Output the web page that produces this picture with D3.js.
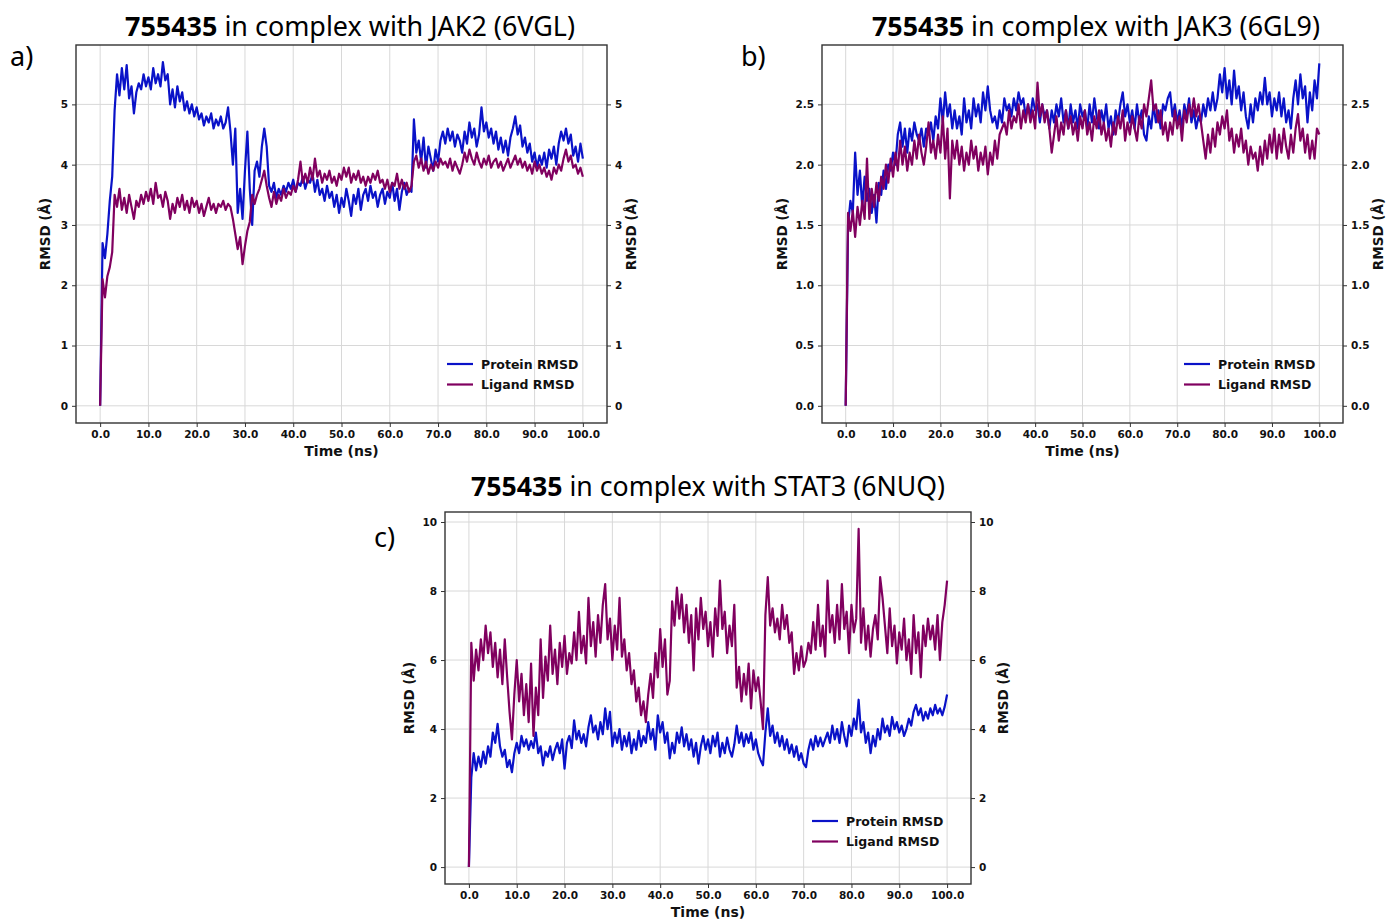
<!DOCTYPE html>
<html>
<head>
<meta charset="utf-8">
<script src="https://cdn.jsdelivr.net/npm/d3@7"></script>
<style>
  html, body { margin: 0; padding: 0; background: #ffffff; }
  svg { display: block; }
</style>
</head>
<body>
<svg id="chart" width="1386" height="924"></svg>
<script>
// ---------------- DATA ----------------
// sampling grid: 0.0 ... 100.0 ns, every 0.5 ns
const time = d3.range(0, 100.25, 0.5);

const xTickValues = [0, 10, 20, 30, 40, 50, 60, 70, 80, 90, 100];
const seriesNames = ["Protein RMSD", "Ligand RMSD"];

// a) JAK2 (6VGL)
const jak2Protein = [
  0.0,2.7,2.45,2.85,3.4,3.8,4.9,5.5,5.15,5.6,
  5.25,5.65,5.1,5.3,4.85,5.2,5.35,5.25,5.5,5.3,
  5.45,5.25,5.6,5.35,5.5,5.3,5.7,5.4,5.5,5.0,
  5.25,4.95,5.3,5.05,5.2,4.9,5.05,4.85,5.0,4.8,
  4.95,4.75,4.85,4.65,4.8,4.7,4.85,4.6,4.75,4.65,
  4.8,4.6,4.7,4.95,4.55,4.0,4.6,3.2,3.6,3.1,
  3.9,4.55,3.6,3.0,3.9,4.05,3.8,4.3,4.6,4.3,
  3.65,3.55,3.7,3.45,3.6,3.5,3.65,3.55,3.7,3.6,
  3.75,3.55,3.7,3.65,3.8,3.6,3.75,3.7,3.85,3.55,
  3.75,3.5,3.6,3.4,3.65,3.45,3.55,3.3,3.5,3.2,
  3.45,3.3,3.6,3.4,3.15,3.5,3.35,3.6,3.25,3.5,
  3.6,3.4,3.65,3.45,3.55,3.3,3.5,3.6,3.35,3.55,
  3.45,3.7,3.4,3.6,3.25,3.55,3.7,3.5,3.6,3.55,
  4.75,4.2,4.4,4.05,4.45,3.95,4.3,4.1,3.9,4.25,
  4.05,4.4,4.55,4.35,4.6,4.4,4.55,4.3,4.5,4.4,
  4.2,4.55,4.35,4.7,4.45,4.6,4.3,4.5,4.95,4.55,
  4.7,4.45,4.6,4.35,4.55,4.25,4.45,4.2,4.4,4.15,
  4.45,4.6,4.8,4.5,4.65,4.3,4.45,4.2,4.35,4.05,
  4.2,3.95,4.15,4.0,4.2,3.95,4.25,4.1,4.3,4.0,
  4.35,4.55,4.4,4.6,4.35,4.5,4.15,4.3,4.05,4.35,
  4.1
];
const jak2Ligand = [
  0.0,2.1,1.8,2.15,2.3,2.55,3.5,3.3,3.6,3.25,
  3.45,3.2,3.5,3.3,3.1,3.4,3.3,3.5,3.35,3.55,
  3.4,3.6,3.35,3.7,3.45,3.5,3.3,3.55,3.4,3.1,
  3.35,3.2,3.45,3.3,3.5,3.25,3.4,3.2,3.45,3.3,
  3.4,3.2,3.35,3.15,3.3,3.45,3.25,3.35,3.2,3.35,
  3.3,3.4,3.25,3.35,3.3,3.1,2.85,2.6,2.8,2.35,
  2.65,2.9,3.05,3.5,3.35,3.5,3.6,3.75,3.9,3.65,
  3.45,3.3,3.55,3.35,3.5,3.4,3.6,3.45,3.55,3.5,
  3.65,3.55,3.75,4.05,3.7,3.85,3.7,3.95,3.75,4.1,
  3.8,3.9,3.7,3.85,3.75,3.9,3.7,3.8,3.65,3.85,
  3.75,3.95,3.8,3.95,3.7,3.85,3.75,3.9,3.7,3.8,
  3.65,3.8,3.7,3.85,3.75,3.9,3.7,3.75,3.6,3.75,
  3.55,3.7,3.65,3.85,3.6,3.75,3.6,3.7,3.55,3.65,
  4.05,4.15,3.95,4.1,3.9,4.05,3.85,4.0,3.9,4.05,
  3.95,4.1,4.0,4.05,3.95,4.1,3.9,4.05,3.95,3.85,
  4.0,4.2,4.05,4.25,4.1,4.0,4.2,4.05,3.95,4.1,
  4.0,4.15,3.95,4.05,4.1,3.95,4.05,3.9,4.0,4.1,
  3.95,4.05,4.15,4.0,4.1,3.95,4.05,3.9,4.0,3.85,
  4.05,3.9,4.0,3.85,3.95,3.8,3.9,3.75,3.95,3.85,
  4.0,3.9,4.1,4.25,4.05,4.15,3.95,4.0,3.85,3.95,
  3.8
];
const jak2YTicks = [0, 1, 2, 3, 4, 5];

// b) JAK3 (6GL9)
const jak3Protein = [
  0.0,1.5,1.7,1.6,2.1,1.75,1.95,1.65,1.9,1.7,
  1.8,1.6,1.75,1.52,1.85,1.75,1.95,1.8,2.0,1.95,
  2.1,2.0,2.25,2.35,2.15,2.3,2.1,2.3,2.2,2.35,
  2.25,2.2,2.3,2.15,2.3,2.25,2.35,2.2,2.4,2.3,
  2.55,2.35,2.6,2.4,2.5,2.3,2.45,2.3,2.4,2.25,
  2.55,2.35,2.45,2.3,2.55,2.4,2.5,2.35,2.6,2.45,
  2.65,2.45,2.35,2.4,2.3,2.45,2.35,2.55,2.45,2.5,
  2.4,2.55,2.45,2.6,2.5,2.55,2.4,2.5,2.4,2.55,
  2.45,2.5,2.35,2.5,2.4,2.45,2.3,2.45,2.35,2.5,
  2.4,2.55,2.35,2.45,2.3,2.5,2.35,2.45,2.3,2.5,
  2.4,2.45,2.3,2.5,2.35,2.55,2.4,2.3,2.45,2.35,
  2.5,2.3,2.4,2.25,2.45,2.35,2.5,2.6,2.4,2.5,
  2.35,2.45,2.3,2.5,2.35,2.45,2.25,2.2,2.4,2.3,
  2.5,2.35,2.45,2.3,2.5,2.45,2.55,2.6,2.4,2.5,
  2.35,2.45,2.3,2.5,2.4,2.55,2.35,2.45,2.3,2.4,
  2.35,2.5,2.4,2.55,2.45,2.6,2.45,2.55,2.75,2.6,
  2.8,2.55,2.7,2.5,2.78,2.55,2.65,2.45,2.6,2.4,
  2.3,2.5,2.35,2.55,2.45,2.6,2.5,2.72,2.5,2.6,
  2.4,2.55,2.45,2.6,2.4,2.55,2.35,2.45,2.3,2.55,
  2.7,2.5,2.75,2.55,2.65,2.35,2.6,2.45,2.7,2.55,
  2.84
];
const jak3Ligand = [
  0.0,1.6,1.45,1.62,1.4,1.65,1.5,1.7,1.55,2.05,
  1.55,1.8,1.65,1.85,1.7,1.9,1.8,2.0,1.85,2.05,
  1.9,2.1,1.95,2.2,2.0,2.15,1.95,2.1,2.0,2.2,
  2.05,2.25,2.1,2.0,2.15,2.35,2.1,2.2,2.05,2.25,
  2.1,2.4,2.05,2.3,1.72,2.2,2.05,2.2,2.0,2.15,
  1.95,2.1,2.0,2.2,2.05,2.15,1.95,2.1,2.0,2.15,
  1.92,2.1,2.0,2.2,2.05,2.25,2.3,2.35,2.25,2.45,
  2.3,2.4,2.35,2.5,2.3,2.45,2.35,2.5,2.35,2.45,
  2.3,2.68,2.4,2.5,2.35,2.45,2.3,2.1,2.25,2.4,
  2.2,2.35,2.25,2.45,2.3,2.4,2.25,2.35,2.2,2.4,
  2.3,2.45,2.25,2.35,2.2,2.4,2.3,2.45,2.25,2.35,
  2.2,2.3,2.15,2.35,2.25,2.4,2.3,2.45,2.2,2.35,
  2.25,2.4,2.3,2.2,2.4,2.3,2.5,2.4,2.55,2.7,
  2.45,2.5,2.35,2.45,2.25,2.35,2.2,2.35,2.25,2.45,
  2.3,2.4,2.2,2.45,2.35,2.5,2.4,2.55,2.4,2.5,
  2.35,2.2,2.05,2.25,2.1,2.3,2.15,2.35,2.25,2.4,
  2.3,2.45,2.2,2.3,2.1,2.25,2.15,2.3,2.1,2.2,
  2.0,2.15,2.05,2.1,1.95,2.15,2.0,2.2,2.05,2.25,
  2.1,2.3,2.05,2.25,2.1,2.3,2.15,2.05,2.25,2.1,
  2.3,2.42,2.2,2.3,2.1,2.25,2.05,2.2,2.05,2.3,
  2.25
];
const jak3YTicks = [0, 0.5, 1.0, 1.5, 2.0, 2.5];

// c) STAT3 (6NUQ)
const stat3Protein = [
  0.0,2.6,3.3,2.8,3.2,2.9,3.35,3.0,3.5,3.2,
  3.9,3.6,4.15,3.5,3.2,3.4,2.9,3.1,2.75,3.3,
  3.6,3.3,3.8,3.5,3.7,3.4,3.65,3.45,3.9,3.3,
  3.5,2.95,3.35,3.2,3.5,3.1,3.4,3.6,3.3,3.7,
  2.85,3.6,3.8,3.45,4.25,3.7,3.95,3.6,3.85,3.5,
  4.05,4.4,3.9,4.1,3.7,4.2,3.85,4.6,4.0,4.5,
  3.5,3.9,3.6,4.0,3.4,3.8,3.5,3.9,3.3,3.7,
  3.4,3.95,3.5,3.8,3.6,4.2,3.7,4.0,3.4,4.4,
  3.9,4.2,3.6,3.9,3.15,3.6,3.3,3.9,3.6,4.05,
  3.5,3.85,3.4,3.7,3.2,3.6,3.0,3.5,3.8,3.4,
  3.7,3.3,3.8,3.5,3.9,3.2,3.6,3.3,3.75,3.4,
  3.2,3.55,4.1,3.6,3.9,3.5,3.85,3.6,3.9,3.4,
  3.7,3.3,3.1,2.95,3.9,4.6,3.8,4.1,3.6,3.9,
  3.5,3.8,3.4,3.7,3.3,3.55,3.2,3.5,3.1,3.3,
  3.0,2.9,3.4,3.7,3.4,3.8,3.5,3.75,3.5,3.7,
  3.9,3.6,4.1,3.7,4.0,3.6,4.2,3.8,3.5,4.1,
  3.8,4.3,4.0,4.85,3.9,4.2,3.6,3.9,3.3,3.8,
  3.5,4.0,3.7,4.3,3.9,4.1,3.8,4.35,4.0,4.2,
  3.9,4.1,3.8,4.0,4.3,4.1,4.5,4.7,4.4,4.6,
  4.25,4.5,4.3,4.6,4.4,4.7,4.45,4.6,4.4,4.65,
  5.0
];
const stat3Ligand = [
  0.0,6.5,5.4,6.3,5.7,6.6,6.0,7.0,6.2,6.8,
  5.8,6.5,5.5,6.3,5.3,6.6,5.5,4.5,3.7,5.0,
  6.0,4.8,5.6,4.4,5.3,4.2,5.9,3.8,5.2,4.4,
  6.6,4.9,6.1,5.4,7.0,5.6,6.3,5.3,6.5,5.8,
  6.7,5.6,6.2,5.9,6.8,6.0,7.4,6.2,6.7,5.9,
  7.8,6.4,7.1,6.1,7.3,6.5,7.6,8.2,6.6,7.2,
  6.0,7.0,6.3,7.8,6.1,6.6,5.7,6.2,5.3,5.7,
  4.8,5.2,4.4,4.8,4.2,5.0,5.6,4.9,6.2,5.5,
  6.9,5.8,6.6,5.0,5.4,7.7,7.0,8.1,7.2,7.9,
  6.8,7.6,6.5,7.3,5.7,7.5,6.6,7.8,6.9,7.4,
  6.4,7.1,6.1,7.5,6.7,8.3,6.9,7.4,6.2,7.0,
  6.4,7.6,5.2,5.8,4.8,5.6,5.0,5.9,4.6,5.7,
  5.1,5.5,4.8,4.0,7.3,8.4,7.0,7.5,6.8,7.2,
  6.6,7.6,6.9,7.3,6.5,6.8,5.6,6.2,5.7,6.4,
  5.8,6.0,6.5,6.2,7.1,6.3,7.6,6.4,7.0,6.1,
  8.3,6.8,7.3,6.5,7.6,6.6,8.2,6.9,7.4,6.2,
  7.6,6.8,7.2,9.8,6.5,7.5,6.3,7.0,6.1,6.9,
  7.3,6.6,8.4,7.8,7.0,6.2,7.5,6.4,7.0,5.9,
  6.8,6.3,7.2,6.0,6.6,5.6,7.3,6.2,6.8,5.5,
  7.0,6.4,7.2,6.6,7.0,6.3,7.3,6.0,7.1,7.6,
  8.3
];
const stat3YTicks = [0, 2, 4, 6, 8, 10];

// ---------------- STYLE / LAYOUT ----------------
const proteinColor = "#0a12c8";
const ligandColor = "#80005f";
const tickFont = "'DejaVu Sans', sans-serif";
const titleFont = "'Noto Sans', 'Open Sans', sans-serif";

const panels = [
  {
    letter: "a)", letterX: 10, letterY: 66,
    bold: "755435", rest: " in complex with JAK2 (6VGL)", titleX: 125, titleW: 450, titleY: 36,
    left: 76, right: 607, top: 45, bottom: 423,
    ydom: [-0.285, 5.985], yTicks: jak2YTicks, yFmt: d3.format("d"),
    protein: jak2Protein, ligand: jak2Ligand,
    ylabL: 50, ylabR: 636,
    legX: 447, legY: 364
  },
  {
    letter: "b)", letterX: 741, letterY: 66,
    bold: "755435", rest: " in complex with JAK3 (6GL9)", titleX: 872, titleW: 448, titleY: 36,
    left: 822, right: 1343, top: 45, bottom: 423,
    ydom: [-0.1425, 2.9925], yTicks: jak3YTicks, yFmt: d3.format(".1f"),
    protein: jak3Protein, ligand: jak3Ligand,
    ylabL: 787, ylabR: 1383,
    legX: 1184, legY: 364
  },
  {
    letter: "c)", letterX: 374, letterY: 547,
    bold: "755435", rest: " in complex with STAT3 (6NUQ)", titleX: 471, titleW: 474, titleY: 496,
    left: 445, right: 971, top: 512, bottom: 884,
    ydom: [-0.49, 10.29], yTicks: stat3YTicks, yFmt: d3.format("d"),
    protein: stat3Protein, ligand: stat3Ligand,
    ylabL: 414, ylabR: 1008,
    legX: 812, legY: 821
  }
];

const svg = d3.select("#chart");
svg.append("rect").attr("width", 1386).attr("height", 924).attr("fill", "#ffffff");

function drawPanel(p) {
  const g = svg.append("g");
  const x = d3.scaleLinear().domain([-5, 105]).range([p.left, p.right]);
  const y = d3.scaleLinear().domain(p.ydom).range([p.bottom, p.top]);

  // grid
  g.append("g").selectAll("line").data(xTickValues).join("line")
    .attr("x1", d => x(d)).attr("x2", d => x(d))
    .attr("y1", p.top).attr("y2", p.bottom)
    .attr("stroke", "#d8d8d8").attr("stroke-width", 1);
  g.append("g").selectAll("line").data(p.yTicks).join("line")
    .attr("y1", d => y(d)).attr("y2", d => y(d))
    .attr("x1", p.left).attr("x2", p.right)
    .attr("stroke", "#d8d8d8").attr("stroke-width", 1);

  // series
  const line = d3.line().x((d, i) => x(time[i])).y(d => y(d));
  g.append("path").datum(p.protein).attr("d", line)
    .attr("fill", "none").attr("stroke", proteinColor).attr("stroke-width", 2.2)
    .attr("stroke-linejoin", "round");
  g.append("path").datum(p.ligand).attr("d", line)
    .attr("fill", "none").attr("stroke", ligandColor).attr("stroke-width", 2.2)
    .attr("stroke-linejoin", "round");

  // axes
  const styleAxis = sel => {
    sel.select(".domain").remove();
    sel.selectAll(".tick line").attr("stroke", "#333").attr("stroke-width", 1);
    sel.selectAll(".tick text").attr("fill", "#111")
      .style("font-family", tickFont).style("font-weight", "bold").style("font-size", "10.5px");
  };
  g.append("g").attr("transform", `translate(0,${p.bottom})`)
    .call(d3.axisBottom(x).tickValues(xTickValues).tickFormat(d3.format(".1f")).tickSize(4).tickPadding(4))
    .call(styleAxis);
  g.append("g").attr("transform", `translate(${p.left},0)`)
    .call(d3.axisLeft(y).tickValues(p.yTicks).tickFormat(p.yFmt).tickSize(4).tickPadding(4))
    .call(styleAxis);
  g.append("g").attr("transform", `translate(${p.right},0)`)
    .call(d3.axisRight(y).tickValues(p.yTicks).tickFormat(p.yFmt).tickSize(4).tickPadding(4))
    .call(styleAxis);

  // frame
  g.append("rect").attr("x", p.left).attr("y", p.top)
    .attr("width", p.right - p.left).attr("height", p.bottom - p.top)
    .attr("fill", "none").attr("stroke", "#333333").attr("stroke-width", 1.4);

  // axis labels
  const cy = (p.top + p.bottom) / 2;
  g.append("text").text("Time (ns)")
    .attr("x", (x(0) + x(100)) / 2).attr("y", p.bottom + 33)
    .attr("text-anchor", "middle").attr("fill", "#111")
    .style("font-family", tickFont).style("font-weight", "bold").style("font-size", "14px");
  [p.ylabL, p.ylabR].forEach(lx => {
    g.append("text").text("RMSD (Å)")
      .attr("transform", `translate(${lx},${cy}) rotate(-90)`)
      .attr("text-anchor", "middle").attr("fill", "#111")
      .style("font-family", tickFont).style("font-weight", "bold").style("font-size", "13.5px");
  });

  // legend
  const cols = [proteinColor, ligandColor];
  seriesNames.forEach((nm, i) => {
    const ly = p.legY + i * 20.5;
    g.append("line").attr("x1", p.legX).attr("x2", p.legX + 26)
      .attr("y1", ly).attr("y2", ly)
      .attr("stroke", cols[i]).attr("stroke-width", 2.2);
    g.append("text").text(nm).attr("x", p.legX + 34).attr("y", ly + 4.5)
      .attr("fill", "#111")
      .style("font-family", tickFont).style("font-weight", "bold").style("font-size", "12.5px");
  });

  // title
  const t = svg.append("text").attr("x", p.titleX).attr("y", p.titleY)
    .attr("fill", "#000").style("font-family", titleFont).style("font-size", "27px")
    .attr("textLength", p.titleW).attr("lengthAdjust", "spacingAndGlyphs");
  t.append("tspan").text(p.bold).style("font-weight", "bold");
  t.append("tspan").text(p.rest).style("font-weight", "normal");

  // panel letter
  svg.append("text").text(p.letter).attr("x", p.letterX).attr("y", p.letterY)
    .attr("fill", "#000").style("font-family", titleFont).style("font-size", "27px");
}

panels.forEach(drawPanel);
</script>
</body>
</html>
